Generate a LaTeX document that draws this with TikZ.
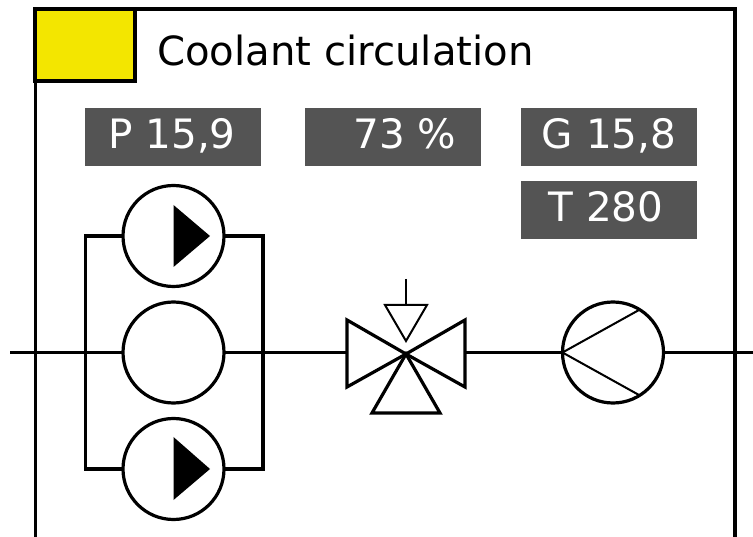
\documentclass[tikz,border=0pt]{standalone}
\usepackage{fontspec}
\usetikzlibrary{calc}
\setmainfont{DejaVu Sans}
\tikzset{
  line/.style={draw=black,line width=3.2pt,line join=miter},
  thin line/.style={draw=black,line width=2pt},
  pump/.style={circle,draw=black,line width=3.2pt,fill=white,minimum size=101pt,inner sep=0pt,outer sep=0pt},
  readout/.style={fill=readoutgrey,text=white,minimum width=176pt,minimum height=58pt,inner sep=0pt,outer sep=0pt,font=\fontsize{40.5}{40.5}\selectfont,text height=29pt,text depth=5pt},
  tip/.style={fill=black,draw=none}
}
\definecolor{readoutgrey}{HTML}{545454}
\definecolor{signal}{HTML}{F3E600}
\begin{document}
\begin{tikzpicture}[x=1pt,y=-1pt]
\useasboundingbox (0,0) rectangle (753,537);
\fill[white] (0,0) rectangle (753,537);
% frame
\coordinate (fbl) at (35.5,537);
\coordinate (ftl) at (35.5,9);
\coordinate (ftr) at (735,9);
\coordinate (fbr) at (735,537);
\draw[line] (fbl) -- (ftl);
\draw[line] (ftr) -- (fbr);
\draw[draw=black,line width=4pt] ($(ftl)+(-1.6,0)$) -- ($(ftr)+(1.6,0)$);
% yellow flag
\node[draw=black,line width=3.2pt,fill=signal,minimum width=100pt,minimum height=72pt,inner sep=0pt,outer sep=0pt] (flag) at (85,45) {};
\node[anchor=west,inner sep=0pt,font=\fontsize{40.2}{40.2}\selectfont] (title) at (157,51) {Coolant circulation};
% readouts
\node[readout] (p) at (173,137) {\hspace*{-2pt}P 15,9};
\node[readout] (v) at (393,137) {\hspace*{24pt}73 \%};
\node[readout] (g) at (609,137) {G 15,8};
\node[readout,text width=122pt,align=left] (t) at (609,210) {T 280};
% pumps
\node[pump] (p1) at (173.5,236) {};
\node[pump] (p2) at (173.5,352.5) {};
\node[pump] (p3) at (173.5,469) {};
\node[pump] (fan) at (613,352.5) {};
% valve
\coordinate (vc) at (406,354);
\coordinate (in) at (10,352.5);
\coordinate (out) at (753,352.5);
\coordinate (vl) at (347,352.5);
\coordinate (vr) at (465,352.5);
\coordinate (la) at (85.5,352.5);
\coordinate (ra) at (263,352.5);
% pipes
\draw[line] (in) -- (p2.west);
\draw[line] (p2.east) -- (vl);
\draw[line] (vr) -- (fan.west);
\draw[line] (fan.east) -- (out);
\draw[line] (p1.west) -| (la) |- (p3.west);
\draw[line] (p1.east) -| (ra) |- (p3.east);
% pump arrows
\fill[tip] (173.5,205) -- (210,236) -- (173.5,267) -- cycle;
\fill[tip] (173.5,437) -- (210,469) -- (173.5,500) -- cycle;
% valve body
\draw[line] (vc) -- (347,320) -- (347,387) -- cycle;
\draw[line] (vc) -- (465,320) -- (465,387) -- cycle;
\draw[line] (vc) -- (372,413) -- (440,413) -- cycle;
% actuator
\coordinate (act) at (406,305);
\coordinate (stem) at (406,279);
\draw[thin line] (stem) -- (act);
\draw[thin line,line join=miter] (385,305) -- (427,305) -- (406,341) -- cycle;
% fan blades
\draw[thin line] (fan.west) -- (639,310);
\draw[thin line] (fan.west) -- (639,395);
\end{tikzpicture}
\end{document}
